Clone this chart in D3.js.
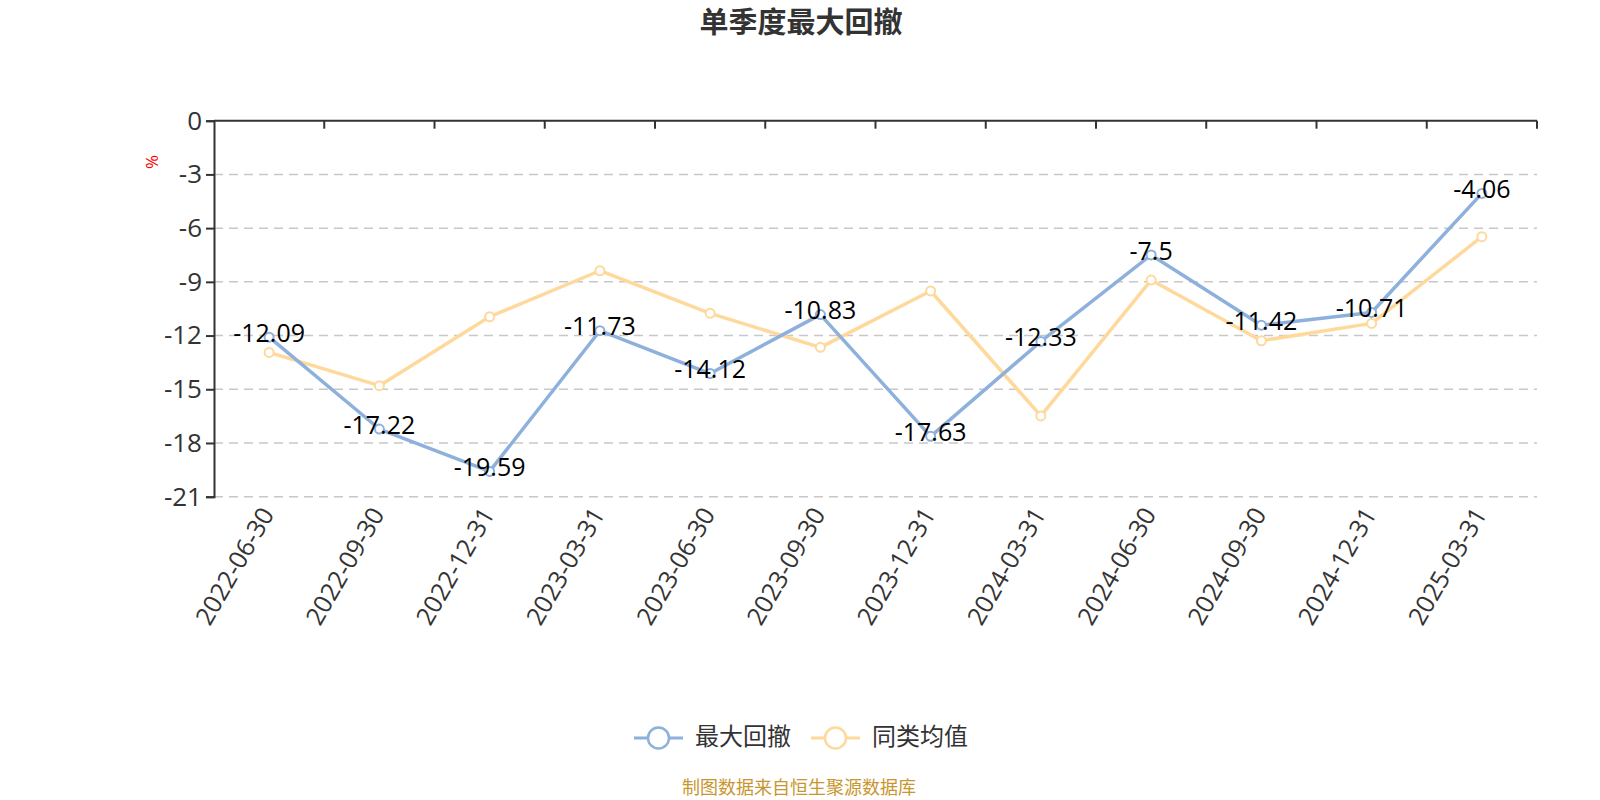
<!DOCTYPE html>
<html><head><meta charset="utf-8">
<script src="https://cdn.jsdelivr.net/npm/d3@7/dist/d3.min.js"></script>
<style>
html,body{margin:0;padding:0;background:#fff;}
svg{display:block;}
text{font-family:"Open Sans","Noto Sans CJK SC",sans-serif;}
</style></head>
<body>
<svg id="c" width="1600" height="800"></svg>
<script>
const categories = ["2022-06-30","2022-09-30","2022-12-31","2023-03-31","2023-06-30","2023-09-30","2023-12-31","2024-03-31","2024-06-30","2024-09-30","2024-12-31","2025-03-31"];
const maxDrawdown = [-12.09,-17.22,-19.59,-11.73,-14.12,-10.83,-17.63,-12.33,-7.5,-11.42,-10.71,-4.06];
const peerAverage = [-12.94,-14.80,-10.95,-8.38,-10.76,-12.66,-9.51,-16.49,-8.90,-12.29,-11.32,-6.48];
const yTicks = [0,-3,-6,-9,-12,-15,-18,-21];
const seriesNames = ["最大回撤","同类均值"];
const colors = ["#8eb0dc","#fed99b"];

(function(){
const svg = d3.select("#c");
const pL = 214, pR = 1537, pT = 120.7, pB = 496.7;
const x = d3.scaleBand().domain(categories).range([pL, pR]);
const y = d3.scaleLinear().domain([-21, 0]).range([pB, pT]);
const cx = d => x(d) + x.bandwidth()/2;
const CJK = '"Microsoft YaHei","Noto Sans CJK SC",sans-serif';

// title
svg.append("text").attr("x", 801).attr("y", 25).attr("text-anchor","middle")
  .attr("dominant-baseline","middle").attr("font-size", 29).attr("font-weight","bold")
  .attr("fill","#333").style("font-family", CJK).text("单季度最大回撤");

// grid
svg.append("g").selectAll("line").data(yTicks.filter(v => v !== 0)).join("line")
  .attr("x1", pL).attr("x2", pR).attr("y1", d => y(d)).attr("y2", d => y(d))
  .attr("stroke","#c8c8c8").attr("stroke-width",1.5).attr("stroke-dasharray","9,6");

// y axis
const yAxis = d3.axisLeft(y).tickValues(yTicks).tickSize(8).tickPadding(4).tickFormat(d => d);
const yg = svg.append("g").attr("transform",`translate(${pL},0)`).call(yAxis);
yg.select(".domain").attr("stroke","#333").attr("stroke-width",2);
yg.selectAll(".tick line").attr("stroke","#333").attr("stroke-width",2);
yg.selectAll(".tick text").attr("font-size",26).attr("fill","#333")
  .style("font-family",'"Open Sans",sans-serif');

// y unit
svg.append("text").attr("transform","translate(153,162) rotate(-90)")
  .attr("text-anchor","middle").attr("dominant-baseline","middle")
  .attr("font-size",17).attr("fill","#ff0000").text("%");

// x axis at zero (top)
const xAxisLine = svg.append("g");
xAxisLine.append("line").attr("x1",pL).attr("x2",pR).attr("y1",y(0)).attr("y2",y(0))
  .attr("stroke","#333").attr("stroke-width",2);
const boundaries = categories.map(c => x(c)).slice(1).concat([pR]);
xAxisLine.selectAll("line.t").data(boundaries).join("line").attr("class","t")
  .attr("x1",d=>d).attr("x2",d=>d).attr("y1",y(0)).attr("y2",y(0)+8)
  .attr("stroke","#333").attr("stroke-width",2);

// x labels at bottom
svg.append("g").selectAll("text").data(categories).join("text")
  .attr("transform", d => `translate(${cx(d)},${pB+14}) rotate(-60)`)
  .attr("text-anchor","end").attr("dominant-baseline","middle")
  .attr("font-size",25).attr("fill","#333").text(d => d);

// lines
const series = [peerAverage, maxDrawdown];
const seriesColors = [colors[1], colors[0]];
const line = d3.line().x((d,i) => cx(categories[i])).y(d => y(d));
series.forEach((s, k) => {
  svg.append("path").datum(s).attr("d", line).attr("fill","none")
    .attr("stroke", seriesColors[k]).attr("stroke-width",3.5).attr("stroke-linejoin","round");
});
series.forEach((s, k) => {
  svg.append("g").selectAll("circle").data(s).join("circle")
    .attr("cx",(d,i)=>cx(categories[i])).attr("cy",d=>y(d)).attr("r",4.5)
    .attr("fill","#fff").attr("stroke",seriesColors[k]).attr("stroke-width",2);
});

// data labels for max drawdown
svg.append("g").selectAll("text").data(maxDrawdown).join("text")
  .attr("x",(d,i)=>cx(categories[i])).attr("y",d=>y(d)-2)
  .attr("text-anchor","middle").attr("dominant-baseline","middle")
  .attr("font-size",25).attr("fill","#000").text(d => d);

// legend
const legendItems = [
  {name: seriesNames[0], color: colors[0], x0: 634},
  {name: seriesNames[1], color: colors[1], x0: 811}
];
const ly = 738;
legendItems.forEach(it => {
  const g = svg.append("g");
  g.append("line").attr("x1",it.x0).attr("x2",it.x0+49).attr("y1",ly).attr("y2",ly)
    .attr("stroke",it.color).attr("stroke-width",3);
  g.append("circle").attr("cx",it.x0+24.5).attr("cy",ly).attr("r",10.5)
    .attr("fill","#fff").attr("stroke",it.color).attr("stroke-width",2.5);
  g.append("text").attr("x",it.x0+61).attr("y",ly).attr("dominant-baseline","middle")
    .attr("font-size",24).attr("fill","#333").style("font-family",CJK).text(it.name);
});

// source
svg.append("text").attr("x",799).attr("y",789).attr("text-anchor","middle")
  .attr("dominant-baseline","middle").attr("font-size",18).attr("fill","#c8962e")
  .style("font-family",CJK).text("制图数据来自恒生聚源数据库");
})();
</script>
</body></html>
